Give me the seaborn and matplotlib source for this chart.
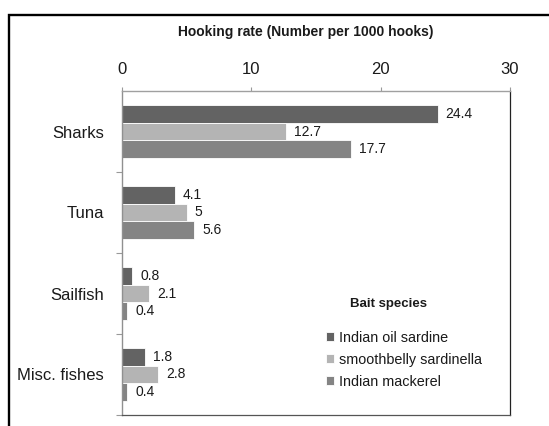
import matplotlib
matplotlib.use("Agg")
import matplotlib.pyplot as plt
from matplotlib.patches import Rectangle
from matplotlib.ticker import FixedLocator
import seaborn as sns
import pandas as pd

# Hooking rate (number per 1000 hooks) by catch group and bait species
groups = ["Sharks", "Tuna", "Sailfish", "Misc. fishes"]
baits = ["Indian oil sardine", "smoothbelly sardinella", "Indian mackerel"]
oil_sardine = [24.4, 4.1, 0.8, 1.8]
smoothbelly = [12.7, 5.0, 2.1, 2.8]
mackerel = [17.7, 5.6, 0.4, 0.4]
x_ticks = [0, 10, 20, 30]

bait_colors = ["#636363", "#b4b4b4", "#848484"]

df = pd.DataFrame({
    "group": groups * 3,
    "bait": [baits[0]] * 4 + [baits[1]] * 4 + [baits[2]] * 4,
    "rate": oil_sardine + smoothbelly + mackerel,
})

sns.set_theme(style="white")
plt.rcParams["font.family"] = ["Liberation Sans", "DejaVu Sans"]

fig = plt.figure(figsize=(5.49, 4.26), dpi=100)
ax = fig.add_axes([122 / 549, 1 - 415 / 426, (510 - 122) / 549, (415 - 91) / 426])

sns.barplot(
    data=df, y="group", x="rate", hue="bait", order=groups, hue_order=baits,
    orient="h", palette=bait_colors, width=0.663, edgecolor="white",
    linewidth=0.6, errorbar=None, ax=ax,
)

for cont in ax.containers:
    ax.bar_label(cont, fmt="%g", padding=5.8, fontsize=10, color="#1a1a1a")

ax.set_xlim(0, 30)
ax.set_ylim(3.5, -0.5)
ax.set_xlabel("")
ax.set_ylabel("")

# value axis on top
ax.xaxis.set_ticks_position("top")
ax.xaxis.set_label_position("top")
ax.set_xticks(x_ticks)
ax.tick_params(axis="x", which="major", length=3, width=0.8, color="#999999",
               pad=7, labelsize=12, labelcolor="#1a1a1a")

# category labels centred, tick marks at the group boundaries
ax.set_yticks(range(len(groups)))
ax.set_yticklabels(groups)
ax.yaxis.set_minor_locator(FixedLocator([0.5, 1.5, 2.5, 3.5]))
ax.tick_params(axis="y", which="major", length=0, pad=13, labelsize=12,
               labelcolor="#1a1a1a")
ax.tick_params(axis="y", which="minor", left=True, length=4, width=0.8,
               color="#999999")

for side, col, lw in [("top", "#a0a0a0", 1.0), ("left", "#909090", 1.0),
                      ("right", "#222222", 0.9), ("bottom", "#555555", 0.9)]:
    ax.spines[side].set_color(col)
    ax.spines[side].set_linewidth(lw)
    ax.spines[side].set_visible(True)

fig.text(306 / 549, 1 - 32 / 426, "Hooking rate (Number per 1000 hooks)",
         ha="center", va="center", fontsize=10, fontweight="bold",
         color="#1a1a1a")

handles, labels = ax.get_legend_handles_labels()
leg = ax.legend(
    handles, labels, loc="upper left", frameon=False,
    bbox_to_anchor=(326 / 549, 1 - 331 / 426), bbox_transform=fig.transFigure,
    borderpad=0, borderaxespad=0, fontsize=10.4, labelspacing=0.55,
    handlelength=0.58, handleheight=0.58, handletextpad=0.3,
)
for t in leg.get_texts():
    t.set_color("#1a1a1a")
fig.text(388 / 549, 1 - 304 / 426, "Bait species", ha="center", va="center",
         fontsize=9.5, fontweight="bold", color="#1a1a1a")

# outer chart border
fig.add_artist(Rectangle((9 / 549, -0.2), 1.5, 1 - 15 / 426 + 0.2,
                         transform=fig.transFigure, fill=False,
                         edgecolor="black", linewidth=1.7))

fig.savefig("out.png", dpi=100)
